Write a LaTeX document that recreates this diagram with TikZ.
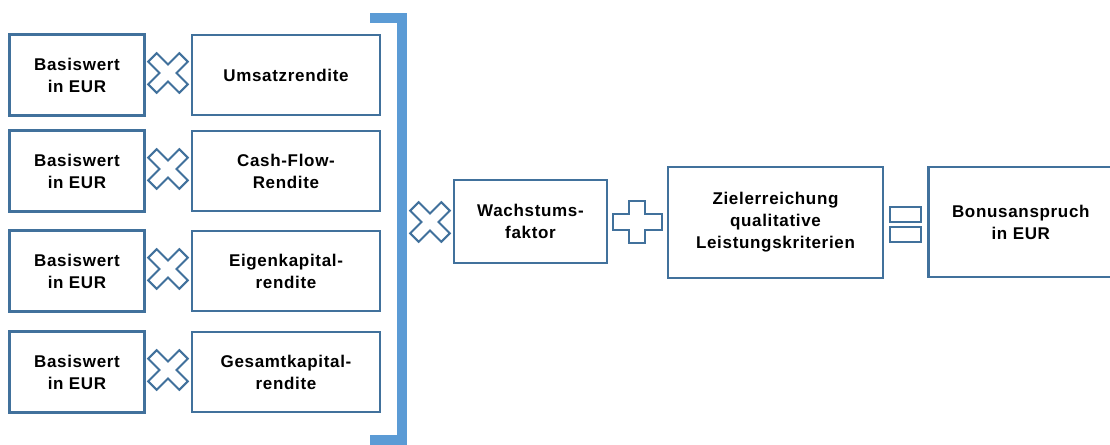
\documentclass[tikz,border=0pt]{standalone}
\usepackage{fontspec}
\setmainfont[LetterSpace=4]{Liberation Sans}
\usepackage{tikz}
\definecolor{boxblue}{HTML}{41719C}
\definecolor{bracketblue}{HTML}{5B9BD5}
\tikzset{
  kasten/.style={draw=boxblue,line width=2.6pt,fill=white,inner sep=0pt,align=center,
    font=\fontsize{17}{22}\selectfont\bfseries},
  sign/.style={draw=boxblue,line width=2pt,fill=white},
  timessign/.pic={\draw[sign,rotate=45] (6,22) -- (6,6) -- (22,6) -- (22,-6) -- (6,-6) -- (6,-22)
      -- (-6,-22) -- (-6,-6) -- (-22,-6) -- (-22,6) -- (-6,6) -- (-6,22) -- cycle;},
}

\begin{document}
\begin{tikzpicture}[x=1pt,y=-1pt]
\useasboundingbox (0,0) rectangle (1110,444);
% the four products
\foreach \y/\ytext [count=\i] in {75/Umsatzrendite, 171/{Cash-Flow-\\Rendite},
    271/{Eigenkapital-\\rendite}, 372/{Gesamtkapital-\\rendite}} {
  \node[kasten,minimum width=135pt,minimum height=81pt] (basis\i) at (77,\y) {Basiswert\\in EUR};
  \node[kasten,minimum width=188pt,minimum height=80pt] (rendite\i) at (286,\y) {\ytext};
  \pic at (168,\y-2) {timessign};
}
\draw[bracketblue,line width=10pt] (370,18) -- (402,18) -- (402,440) -- (370,440);
% right hand side
\pic at (430,222) {timessign};
\node[kasten,minimum width=153pt,minimum height=83pt] (wachstum) at (530.5,221.5) {Wachstums-\\faktor};
\draw[sign] (629,201) -- (645,201) -- (645,214) -- (662,214) -- (662,230) -- (645,230) -- (645,243)
  -- (629,243) -- (629,230) -- (613,230) -- (613,214) -- (629,214) -- cycle;
\node[kasten,minimum width=215pt,minimum height=111pt] (ziel) at (775.5,222.5)
  {Zielerreichung\\qualitative\\Leistungskriterien};
\draw[sign] (890,207) rectangle (921,222);
\draw[sign] (890,227) rectangle (921,242);
\node[kasten,minimum width=185pt,minimum height=110pt,anchor=west] (bonus) at (927,222)
  {Bonusanspruch\\in EUR};
\end{tikzpicture}
\end{document}
